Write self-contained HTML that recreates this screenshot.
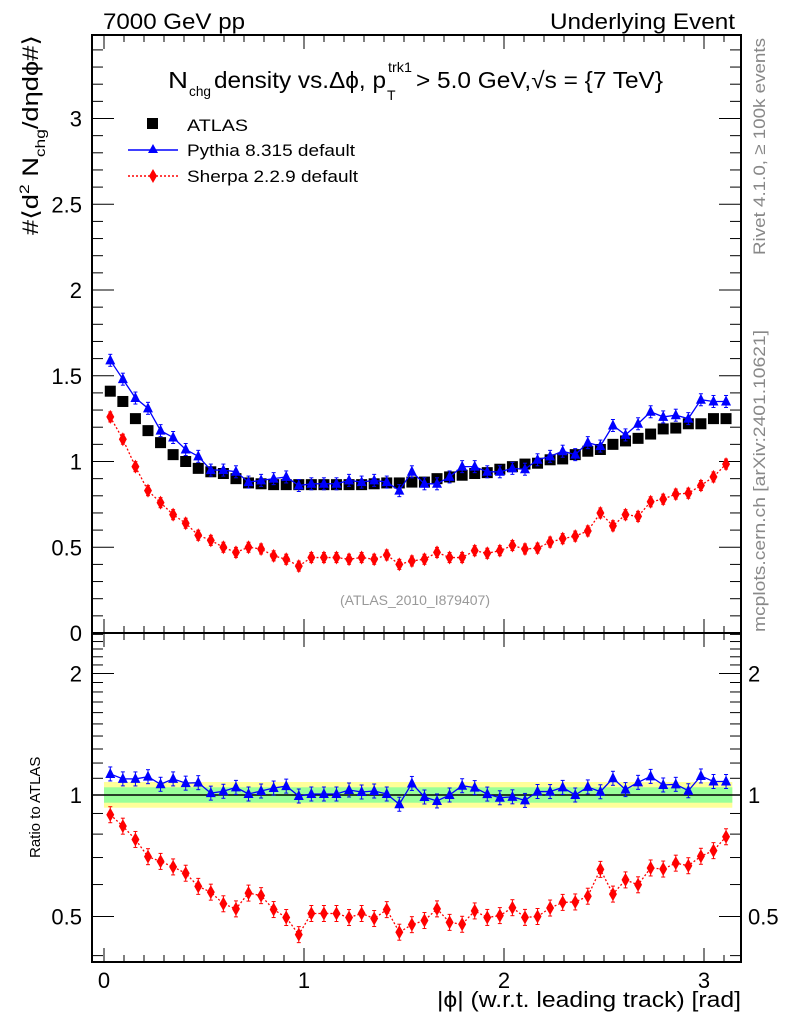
<!DOCTYPE html>
<html><head><meta charset="utf-8"><style>
body{margin:0;background:#fff}
svg{display:block;font-family:"Liberation Sans",sans-serif}
</style></head><body>
<svg id="c" width="786" height="1024" viewBox="0 0 786 1024">
<text x="103" y="29" font-size="22" textLength="142" lengthAdjust="spacingAndGlyphs">7000 GeV pp</text>
<text x="550" y="29" font-size="22" textLength="185" lengthAdjust="spacingAndGlyphs">Underlying Event</text>
<g>
<text x="168" y="88" font-size="23" textLength="20" lengthAdjust="spacingAndGlyphs">N</text>
<text x="189" y="96" font-size="14" textLength="22" lengthAdjust="spacingAndGlyphs">chg</text>
<text x="214" y="88" font-size="23" textLength="172" lengthAdjust="spacingAndGlyphs">density vs.Δϕ, p</text>
<text x="388" y="72" font-size="14" textLength="24" lengthAdjust="spacingAndGlyphs">trk1</text>
<text x="387" y="100" font-size="14">T</text>
<text x="416" y="88" font-size="23" textLength="247" lengthAdjust="spacingAndGlyphs">&gt; 5.0 GeV,√s = {7 TeV}</text>
</g>
<text transform="translate(38,235) rotate(-90)" font-size="22" textLength="200" lengthAdjust="spacingAndGlyphs">#⟨d<tspan font-size="14" dy="-9">2</tspan><tspan dy="9"> N</tspan><tspan font-size="14" dy="7">chg</tspan><tspan dy="-7">/dηdϕ#⟩</tspan></text>
<text transform="translate(40,858) rotate(-90)" font-size="15">Ratio to ATLAS</text>
<text x="437" y="1007" font-size="22" textLength="304" lengthAdjust="spacingAndGlyphs">|ϕ| (w.r.t. leading track) [rad]</text>
<text transform="translate(765,255) rotate(-90)" font-size="17" fill="#888" textLength="217" lengthAdjust="spacingAndGlyphs">Rivet 4.1.0, ≥ 100k events</text>
<text transform="translate(765,632) rotate(-90)" font-size="17" fill="#888" textLength="302" lengthAdjust="spacingAndGlyphs">mcplots.cern.ch [arXiv:2401.10621]</text>
<text x="415" y="605" font-size="14" fill="#999" text-anchor="middle">(ATLAS_2010_I879407)</text>
<g>
<rect x="147" y="118" width="11" height="11" fill="#000"/>
<text x="187" y="131" font-size="17" textLength="61" lengthAdjust="spacingAndGlyphs">ATLAS</text>
<line x1="128" y1="150" x2="178" y2="150" stroke="#00f" stroke-width="1.5"/>
<polygon points="153,144 158,153 148,153" fill="#00f"/>
<text x="187" y="156" font-size="17" textLength="168" lengthAdjust="spacingAndGlyphs">Pythia 8.315 default</text>
<line x1="128" y1="176" x2="178" y2="176" stroke="#f00" stroke-width="1.5" stroke-dasharray="2,2"/>
<polygon points="153,169 157,176 153,183 149,176" fill="#f00"/>
<text x="187" y="182" font-size="17" textLength="171" lengthAdjust="spacingAndGlyphs">Sherpa 2.2.9 default</text>
</g>
</svg>
<script>
const atlas=[1.41,1.35,1.25,1.18,1.11,1.04,1.00,0.96,0.94,0.93,0.90,0.875,0.87,0.865,0.865,0.865,0.865,0.865,0.865,0.865,0.865,0.87,0.875,0.875,0.88,0.88,0.90,0.91,0.92,0.93,0.935,0.955,0.97,0.985,0.99,1.01,1.015,1.04,1.06,1.07,1.10,1.12,1.135,1.16,1.19,1.195,1.22,1.22,1.25,1.25];
const pythia=[1.59,1.48,1.37,1.31,1.18,1.14,1.07,1.03,0.95,0.95,0.94,0.88,0.89,0.90,0.91,0.86,0.87,0.87,0.87,0.89,0.88,0.89,0.88,0.83,0.94,0.87,0.87,0.91,0.97,0.97,0.94,0.94,0.96,0.955,1.01,1.03,1.06,1.04,1.11,1.09,1.21,1.155,1.22,1.29,1.26,1.27,1.25,1.36,1.35,1.35];
const sherpa=[1.26,1.13,0.97,0.83,0.76,0.69,0.64,0.57,0.54,0.50,0.47,0.50,0.49,0.45,0.43,0.39,0.44,0.44,0.44,0.43,0.44,0.43,0.455,0.40,0.42,0.43,0.47,0.44,0.44,0.48,0.465,0.48,0.51,0.49,0.495,0.53,0.55,0.565,0.595,0.70,0.625,0.69,0.68,0.765,0.78,0.81,0.815,0.86,0.91,0.985];
const xTicks=[0,1,2,3];
const yTicks=[0,0.5,1,1.5,2,2.5,3];
const rTicks=[0.5,1,2];
const NS="http://www.w3.org/2000/svg",svg=document.getElementById('c');
const L=92,R=741,T=35,MB=633,RB=962;
const X=v=>104+200*v, Y=v=>633-171.5*v, RY=v=>795-121.5*Math.log2(v);
function mk(t,a,p){const e=document.createElementNS(NS,t);for(const k in a)e.setAttribute(k,a[k]);(p||svg).appendChild(e);return e;}
const nb=atlas.length,w=Math.PI/nb,cx=i=>w*(i+0.5);
const band=mk('g',{});


mk('rect',{x:X(0),y:RY(1.077),width:X(Math.PI)-X(0),height:RY(0.93)-RY(1.077),fill:'#ffff99'},band);
mk('rect',{x:X(0),y:RY(1.045),width:X(Math.PI)-X(0),height:RY(0.957)-RY(1.045),fill:'#99ff99'},band);
const ref=mk('line',{x1:L,x2:R,y1:RY(1),y2:RY(1),stroke:'#000','stroke-width':1.5});


const f1=mk('rect',{x:L,y:T,width:R-L,height:MB-T,fill:'none',stroke:'#000','stroke-width':2});


const f2=mk('rect',{x:L,y:MB,width:R-L,height:RB-MB,fill:'none',stroke:'#000','stroke-width':2});


const tk=mk('g',{stroke:'#000','stroke-width':1});


for(let k=0;k<=31;k++){const v=k/10,x=X(v),big=k%10==0,l=big?14:7;
 for(const [y0,d] of [[T,1],[MB,-1],[MB,1],[RB,-1]]) mk('line',{x1:x,x2:x,y1:y0,y2:y0+d*l},tk);}
xTicks.forEach(v=>{const t=mk('text',{x:X(v),y:988,'font-size':22,'text-anchor':'middle'});t.textContent=v;

});
for(let k=0;k<=34;k++){const v=k/10,y=Y(v),big=k%5==0,l=big?22:11;
 mk('line',{x1:L,x2:L+l,y1:y,y2:y},tk);mk('line',{x1:R,x2:R-l,y1:y,y2:y},tk);}
yTicks.forEach(v=>{const t=mk('text',{x:82,y:Y(v)+8,'font-size':22,'text-anchor':'end'});t.textContent=v;

});
for(let k=4;k<=25;k++){const v=k/10,y=RY(v),big=(k==5||k==10||k==20),l=big?22:11;
 mk('line',{x1:L,x2:L+l,y1:y,y2:y},tk);mk('line',{x1:R,x2:R-l,y1:y,y2:y},tk);}
rTicks.forEach(v=>{for(const [x,a] of [[82,'end'],[748,'start']]){const t=mk('text',{x:x,y:RY(v)+8,'font-size':22,'text-anchor':a});t.textContent=v;

}});
function series(vals,yf,color,shape,dash,name,err){
 const g=mk('g',{});
 
 
 if(color!='#000'){mk('polyline',{points:vals.map((v,i)=>X(cx(i))+','+yf(v)).join(' '),fill:'none',stroke:color,'stroke-width':1.3,'stroke-dasharray':dash},g);}
 vals.forEach((v,i)=>{const x=X(cx(i)),y=yf(v);let m;
  if(err){mk('line',{x1:x,x2:x,y1:y-err,y2:y+err,stroke:color,'stroke-width':1},g);mk('line',{x1:x-2,x2:x+2,y1:y-err,y2:y-err,stroke:color},g);mk('line',{x1:x-2,x2:x+2,y1:y+err,y2:y+err,stroke:color},g);}
  if(shape=='sq')m=mk('rect',{x:x-5.5,y:y-5.5,width:11,height:11,fill:color},g);
  else if(shape=='tri')m=mk('polygon',{points:`${x},${y-6} ${x+5},${y+4} ${x-5},${y+4}`,fill:color},g);
  else m=mk('polygon',{points:`${x},${y-7} ${x+4},${y} ${x},${y+7} ${x-4},${y}`,fill:color},g);
  
  
 });
}
series(atlas,Y,'#000','sq','','atlas-data',0);
series(pythia,Y,'#00f','tri','','pythia-series',6);
series(sherpa,Y,'#f00','dia','2,2','sherpa-series',5);
const rp=pythia.map((v,i)=>v/atlas[i]), rs=sherpa.map((v,i)=>v/atlas[i]);
series(rp,RY,'#00f','tri','','pythia-ratio',7);
series(rs,RY,'#f00','dia','2,2','sherpa-ratio',8);
</script>
</body></html>
